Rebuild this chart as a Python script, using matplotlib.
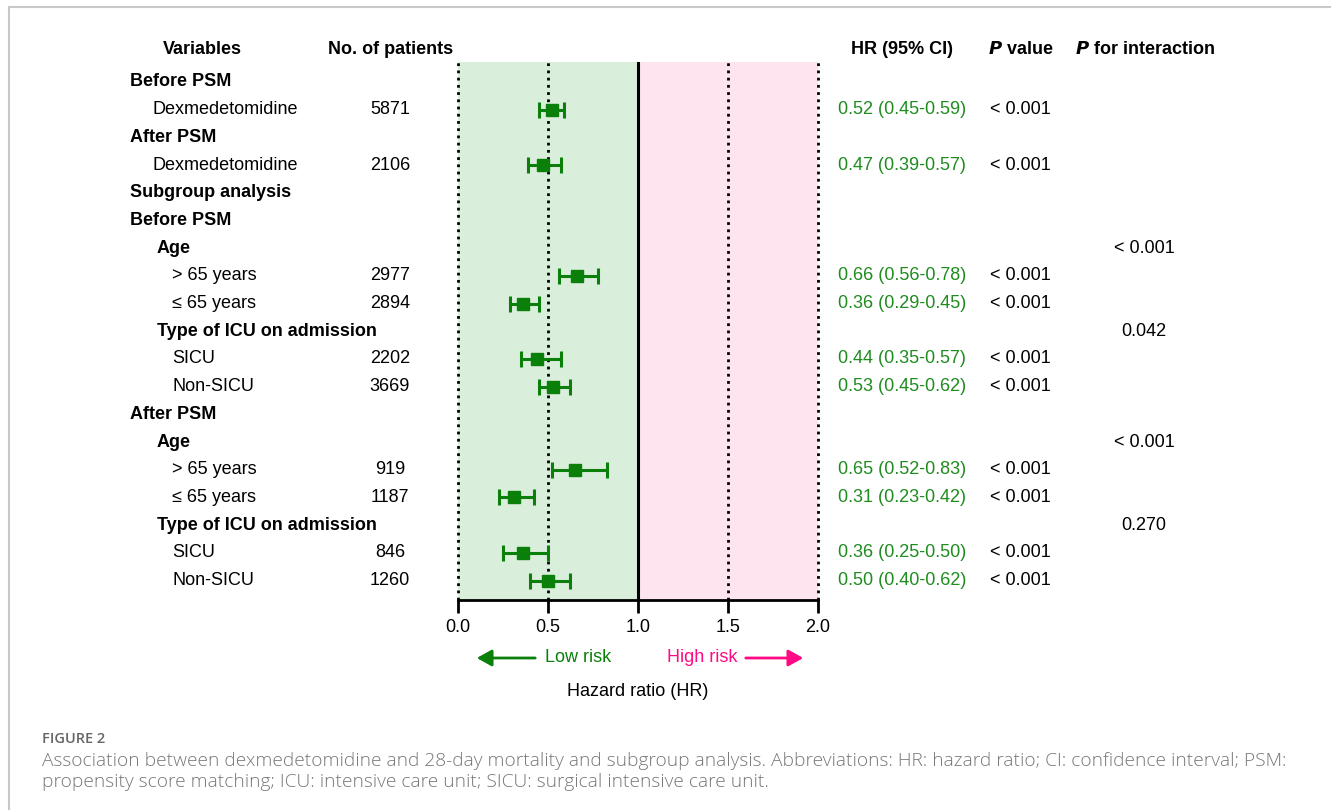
#!/usr/bin/env python3
"""Forest plot: dexmedetomidine and 28-day mortality with subgroup analysis."""

import matplotlib.pyplot as plt
from matplotlib.lines import Line2D
from matplotlib.patches import FancyArrowPatch

# Rows, top to bottom
LABELS = [
    "Before PSM", "Dexmedetomidine", "After PSM", "Dexmedetomidine",
    "Subgroup analysis", "Before PSM", "Age", "> 65 years", "\u2264 65 years",
    "Type of ICU on admission", "SICU", "Non-SICU", "After PSM", "Age",
    "> 65 years", "\u2264 65 years", "Type of ICU on admission", "SICU", "Non-SICU",
]
LEVELS = [0, 1, 0, 1, 0, 0, 2, 3, 3, 2, 3, 3, 0, 2, 3, 3, 2, 3, 3]
BOLD = [True, False, True, False, True, True, True, False, False, True,
        False, False, True, True, False, False, True, False, False]
PATIENTS = ["", "5871", "", "2106", "", "", "", "2977", "2894", "", "2202",
            "3669", "", "", "919", "1187", "", "846", "1260"]
HR = [None, 0.52, None, 0.47, None, None, None, 0.66, 0.36, None, 0.44,
      0.53, None, None, 0.65, 0.31, None, 0.36, 0.50]
CI_LOW = [None, 0.45, None, 0.39, None, None, None, 0.56, 0.29, None, 0.35,
          0.45, None, None, 0.52, 0.23, None, 0.25, 0.40]
CI_HIGH = [None, 0.59, None, 0.57, None, None, None, 0.78, 0.45, None, 0.57,
           0.62, None, None, 0.83, 0.42, None, 0.50, 0.62]
P_VALUE = ["", "< 0.001", "", "< 0.001", "", "", "", "< 0.001", "< 0.001", "",
           "< 0.001", "< 0.001", "", "", "< 0.001", "< 0.001", "", "< 0.001",
           "< 0.001"]
P_INTER = ["", "", "", "", "", "", "< 0.001", "", "", "0.042", "", "", "",
           "< 0.001", "", "", "0.270", "", ""]
XTICKS = [0.0, 0.5, 1.0, 1.5, 2.0]

GREEN = "#0A7F0A"
TEXT_GREEN = "#1E8C1E"
PINK = "#FF0A84"

W, H = 1331, 810
plt.rcParams["font.family"] = ["Liberation Sans", "DejaVu Sans"]

fig = plt.figure(figsize=(W / 100, H / 100), dpi=100)

# plot area in pixels: x 0.0 -> 458, 2.0 -> 818 ; top 62, bottom 600
x0, x1, ytop, ybot = 458, 818, 62, 600
ax = fig.add_axes([x0 / W, 1 - ybot / H, (x1 - x0) / W, (ybot - ytop) / H])
n = len(LABELS)
ax.set_xlim(0, 2.0)
ax.set_ylim(n - 1 + 0.70, -0.72)


def px(xpix):
    """pixel x -> data x of the forest axes"""
    return (xpix - x0) / (x1 - x0) * 2.0


ax.axvspan(0, 1.0, color="#DAEEDC", zorder=0, lw=0)
ax.axvspan(1.0, 2.0, color="#FDE4EE", zorder=0, lw=0)
for xv in [0.0, 0.5, 1.5, 2.0]:
    ax.axvline(xv, color="black", ls=(0, (1, 1.6)), lw=2.0, zorder=1,
               clip_on=False)
ax.axvline(1.0, color="black", lw=2.2, zorder=2)

for i in range(n):
    if HR[i] is None:
        continue
    ax.errorbar(HR[i], i, xerr=[[HR[i] - CI_LOW[i]], [CI_HIGH[i] - HR[i]]],
                fmt="s", color=GREEN, ms=8.5, capsize=6, capthick=2.2,
                elinewidth=2.2, zorder=4)

for side in ["top", "right", "left"]:
    ax.spines[side].set_visible(False)
ax.spines["bottom"].set_linewidth(2)
ax.spines["bottom"].set_zorder(5)
ax.set_yticks([])
ax.set_xticks(XTICKS)
ax.set_xticklabels([f"{t:.1f}" for t in XTICKS], fontsize=13)
ax.tick_params(axis="x", length=9, width=2, pad=5)

fs = 13
indent_px = [130, 152, 157, 172]
for i in range(n):
    xp = indent_px[LEVELS[i]]
    ax.text(px(xp), i, LABELS[i], fontsize=fs, va="center", ha="left",
            fontweight="bold" if BOLD[i] else "normal", clip_on=False)
    if PATIENTS[i]:
        ax.text(px(390), i, PATIENTS[i], fontsize=fs, va="center",
                ha="center", clip_on=False)
    if HR[i] is not None:
        ax.text(px(838), i, f"{HR[i]:.2f} ({CI_LOW[i]:.2f}-{CI_HIGH[i]:.2f})",
                fontsize=fs, va="center", ha="left", color=TEXT_GREEN,
                clip_on=False)
    if P_VALUE[i]:
        ax.text(px(990), i, P_VALUE[i], fontsize=fs, va="center", ha="left",
                clip_on=False)
    if P_INTER[i]:
        ax.text(px(1144), i, P_INTER[i], fontsize=fs, va="center",
                ha="center", clip_on=False)

# header
hy = 1 - 49 / H
fig.text(202 / W, hy, "Variables", fontsize=fs, fontweight="bold",
         ha="center", va="center")
fig.text(391 / W, hy, "No. of patients", fontsize=fs, fontweight="bold",
         ha="center", va="center")
fig.text(902 / W, hy, "HR (95% CI)", fontsize=fs, fontweight="bold",
         ha="center", va="center")
fig.text(988 / W, hy, r"$\mathbfit{P}$ value", fontsize=fs,
         fontweight="bold", ha="left", va="center")
fig.text(1075 / W, hy, r"$\mathbfit{P}$ for interaction", fontsize=fs,
         fontweight="bold", ha="left", va="center")

# risk arrows
ay = 1 - 658 / H
fig.text(545 / W, ay, "Low risk", fontsize=fs, color=GREEN, ha="left",
         va="center")
fig.text(737 / W, ay, "High risk", fontsize=fs, color=PINK, ha="right",
         va="center")
fig.add_artist(FancyArrowPatch(
    (538 / W, ay), (474 / W, ay), transform=fig.transFigure,
    arrowstyle="-|>,head_length=9,head_width=5", color=GREEN, lw=2))
fig.add_artist(FancyArrowPatch(
    (743 / W, ay), (806 / W, ay), transform=fig.transFigure,
    arrowstyle="-|>,head_length=9,head_width=5", color=PINK, lw=2))
fig.text(638 / W, 1 - 692 / H, "Hazard ratio (HR)", fontsize=fs,
         ha="center", va="center")

# frame lines (top and left only)
fig.add_artist(Line2D([9 / W, 1], [1 - 7 / H, 1 - 7 / H], color="#C8C8C8",
                      lw=1.5, transform=fig.transFigure))
fig.add_artist(Line2D([9 / W, 9 / W], [0, 1 - 7 / H], color="#C8C8C8",
                      lw=1.5, transform=fig.transFigure))

# caption
cap_font = ["Open Sans", "DejaVu Sans"]
fig.text(42 / W, 1 - 739 / H, "FIGURE 2", fontsize=10.5, color="#666666",
         family=cap_font, fontweight="semibold", va="center")
fig.text(42 / W, 1 - 761 / H,
         "Association between dexmedetomidine and 28-day mortality and "
         "subgroup analysis. Abbreviations: HR: hazard ratio; CI: confidence "
         "interval; PSM:", fontsize=13.8, color="#777777", family=cap_font,
         fontweight="light", va="center")
fig.text(42 / W, 1 - 782 / H,
         "propensity score matching; ICU: intensive care unit; SICU: surgical "
         "intensive care unit.", fontsize=13.8, color="#777777",
         family=cap_font, fontweight="light", va="center")

fig.savefig("out.png", dpi=100)
